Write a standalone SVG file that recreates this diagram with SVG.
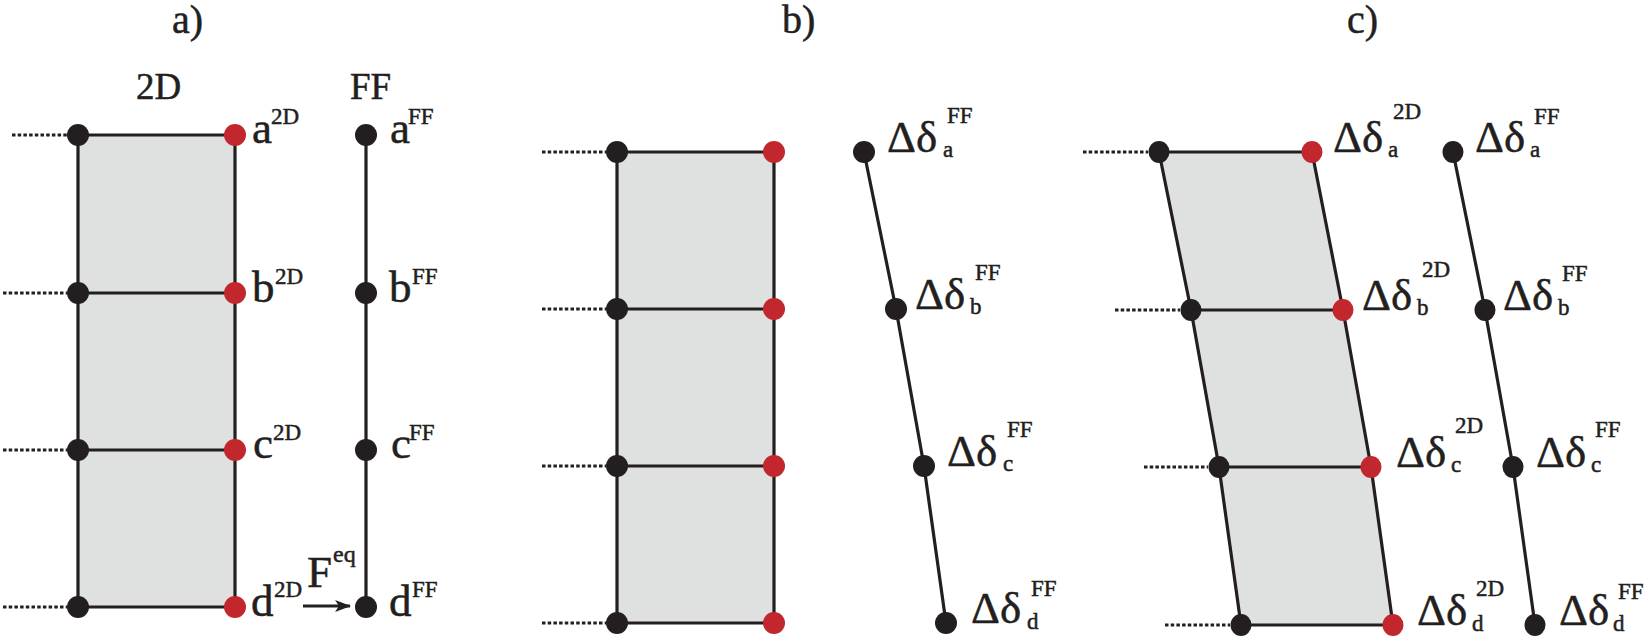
<svg xmlns="http://www.w3.org/2000/svg" width="1649" height="641" viewBox="0 0 1649 641" font-family="'Liberation Serif', 'Times New Roman', 'DejaVu Serif', serif">
<style>
text{font-family:'Liberation Serif','Times New Roman','DejaVu Serif',serif;fill:#231f20;stroke:#231f20;stroke-width:0.5}
.t{font-size:40px}
.h{font-size:37px}
.m{font-size:45px}
.s{font-size:23px}
.e{stroke:#231f20;stroke-width:3.2;fill:none;stroke-linejoin:round}
.d{stroke:#231f20;stroke-width:3;stroke-dasharray:3.5 2.2;fill:none}
.fill{fill:#dfe0e0;stroke:none}
.k{fill:#231f20}
.r{fill:#c1272d}
</style>
<defs>
<marker id="arr" viewBox="0 0 16 12" refX="15" refY="6" markerWidth="16" markerHeight="12" markerUnits="userSpaceOnUse" orient="auto">
<path d="M0,0 L16,6 L0,12 L4,6 Z" fill="#231f20"/>
</marker>
</defs>
<rect width="1649" height="641" fill="#fff"/>

<g id="titles">
<text class="t" x="172" y="33">a)</text>
<text class="t" x="782" y="33">b)</text>
<text class="t" x="1347" y="33">c)</text>
<text class="h" x="136" y="99">2D</text>
<text class="h" x="350" y="99">FF</text>
</g>

<g id="shapes">
<rect class="fill" x="78" y="135" width="157" height="472"/>
<rect class="fill" x="617" y="152" width="157" height="471"/>
<polygon class="fill" points="1159,152 1312,152 1343,310 1371,467 1393,625 1241,625 1219,467 1191,310"/>
</g>

<g id="connectors">
<path class="e" d="M78,135 V607 M235,135 V607 M78,135 H235 M78,293 H235 M78,450 H235 M78,607 H235"/>
<path class="e" d="M366,135 V607"/>
<path class="d" d="M12,135 H67 M3,293 H67 M3,450 H67 M3,607 H67"/>
<path class="e" d="M303,606 H350" marker-end="url(#arr)"/>
<path class="e" d="M617,152 V623 M774,152 V623 M617,152 H774 M617,309 H774 M617,466 H774 M617,623 H774"/>
<polyline class="e" points="864,152 896,309 924,466 946,623"/>
<path class="d" d="M542,152 H606 M542,309 H606 M542,466 H606 M542,623 H606"/>
<polyline class="e" points="1159,152 1191,310 1219,467 1241,625"/>
<polyline class="e" points="1312,152 1343,310 1371,467 1393,625"/>
<path class="e" d="M1159,152 H1312 M1191,310 H1343 M1219,467 H1371 M1241,625 H1393"/>
<polyline class="e" points="1453,152 1485,310 1513,467 1535,625"/>
<path class="d" d="M1083,152 H1148 M1115,310 H1180 M1144,467 H1208 M1165,625 H1230"/>
</g>

<g id="a-2D-left-a"><circle class="k" cx="78" cy="135" r="11"/></g>
<g id="a-2D-left-b"><circle class="k" cx="78" cy="293" r="11"/></g>
<g id="a-2D-left-c"><circle class="k" cx="78" cy="450" r="11"/></g>
<g id="a-2D-left-d"><circle class="k" cx="78" cy="607" r="11"/></g>
<g id="a-2D-a"><circle class="r" cx="235" cy="135" r="11"/><text class="m" x="252" y="143">a</text><text class="s" x="271" y="124">2D</text></g>
<g id="a-2D-b"><circle class="r" cx="235" cy="293" r="11"/><text class="m" x="252" y="302">b</text><text class="s" x="275" y="284">2D</text></g>
<g id="a-2D-c"><circle class="r" cx="235" cy="450" r="11"/><text class="m" x="253" y="458">c</text><text class="s" x="273" y="440">2D</text></g>
<g id="a-2D-d"><circle class="r" cx="235" cy="607" r="11"/><text class="m" x="251" y="616">d</text><text class="s" x="274" y="597">2D</text></g>
<g id="a-FF-a"><circle class="k" cx="366" cy="135" r="11"/><text class="m" x="390" y="143">a</text><text class="s" x="408" y="124">FF</text></g>
<g id="a-FF-b"><circle class="k" cx="366" cy="293" r="11"/><text class="m" x="389" y="302">b</text><text class="s" x="412" y="284">FF</text></g>
<g id="a-FF-c"><circle class="k" cx="366" cy="450" r="11"/><text class="m" x="391" y="458">c</text><text class="s" x="409" y="440">FF</text></g>
<g id="a-FF-d"><circle class="k" cx="366" cy="607" r="11"/><text class="m" x="389" y="616">d</text><text class="s" x="412" y="597">FF</text></g>
<g id="a-Feq"><text class="m" x="307" y="587">F</text><text style="font-size:24px" x="333" y="562">eq</text></g>

<g id="b-left-a"><circle class="k" cx="617" cy="152" r="11"/></g>
<g id="b-left-b"><circle class="k" cx="617" cy="309" r="11"/></g>
<g id="b-left-c"><circle class="k" cx="617" cy="466" r="11"/></g>
<g id="b-left-d"><circle class="k" cx="617" cy="623" r="11"/></g>
<g id="b-right-a"><circle class="r" cx="774" cy="152" r="11"/></g>
<g id="b-right-b"><circle class="r" cx="774" cy="309" r="11"/></g>
<g id="b-right-c"><circle class="r" cx="774" cy="466" r="11"/></g>
<g id="b-right-d"><circle class="r" cx="774" cy="623" r="11"/></g>
<g id="b-FF-a"><circle class="k" cx="864" cy="152" r="11"/><text class="m" x="887" y="152">Δδ</text><text class="s" x="943" y="157">a</text><text class="s" x="947" y="123">FF</text></g>
<g id="b-FF-b"><circle class="k" cx="896" cy="309" r="11"/><text class="m" x="915" y="309">Δδ</text><text class="s" x="970" y="314">b</text><text class="s" x="975" y="280">FF</text></g>
<g id="b-FF-c"><circle class="k" cx="924" cy="466" r="11"/><text class="m" x="947" y="466">Δδ</text><text class="s" x="1003" y="471">c</text><text class="s" x="1007" y="437">FF</text></g>
<g id="b-FF-d"><circle class="k" cx="946" cy="623" r="11"/><text class="m" x="971" y="623">Δδ</text><text class="s" x="1027" y="629">d</text><text class="s" x="1031" y="596">FF</text></g>

<g id="c-left-a"><ellipse class="k" cx="1159" cy="152" rx="10.5" ry="11"/></g>
<g id="c-left-b"><ellipse class="k" cx="1191" cy="310" rx="10.5" ry="11"/></g>
<g id="c-left-c"><ellipse class="k" cx="1219" cy="467" rx="10.5" ry="11"/></g>
<g id="c-left-d"><ellipse class="k" cx="1241" cy="625" rx="10.5" ry="11"/></g>
<g id="c-2D-a"><ellipse class="r" cx="1312" cy="152" rx="10.5" ry="11"/><text class="m" x="1333" y="152">Δδ</text><text class="s" x="1388" y="157">a</text><text class="s" x="1393" y="119">2D</text></g>
<g id="c-2D-b"><ellipse class="r" cx="1343" cy="310" rx="10.5" ry="11"/><text class="m" x="1362" y="310">Δδ</text><text class="s" x="1417" y="315">b</text><text class="s" x="1422" y="277">2D</text></g>
<g id="c-2D-c"><ellipse class="r" cx="1371" cy="467" rx="10.5" ry="11"/><text class="m" x="1396" y="467">Δδ</text><text class="s" x="1451" y="472">c</text><text class="s" x="1455" y="433">2D</text></g>
<g id="c-2D-d"><ellipse class="r" cx="1393" cy="625" rx="10.5" ry="11"/><text class="m" x="1417" y="625">Δδ</text><text class="s" x="1472" y="631">d</text><text class="s" x="1476" y="596">2D</text></g>
<g id="c-FF-a"><ellipse class="k" cx="1453" cy="152" rx="10.5" ry="11"/><text class="m" x="1475" y="152">Δδ</text><text class="s" x="1530" y="157">a</text><text class="s" x="1534" y="124">FF</text></g>
<g id="c-FF-b"><ellipse class="k" cx="1485" cy="310" rx="10.5" ry="11"/><text class="m" x="1503" y="310">Δδ</text><text class="s" x="1558" y="315">b</text><text class="s" x="1562" y="281">FF</text></g>
<g id="c-FF-c"><ellipse class="k" cx="1513" cy="467" rx="10.5" ry="11"/><text class="m" x="1536" y="467">Δδ</text><text class="s" x="1591" y="472">c</text><text class="s" x="1595" y="437">FF</text></g>
<g id="c-FF-d"><ellipse class="k" cx="1535" cy="625" rx="10.5" ry="11"/><text class="m" x="1559" y="625">Δδ</text><text class="s" x="1613" y="631">d</text><text class="s" x="1618" y="599">FF</text></g>
</svg>
